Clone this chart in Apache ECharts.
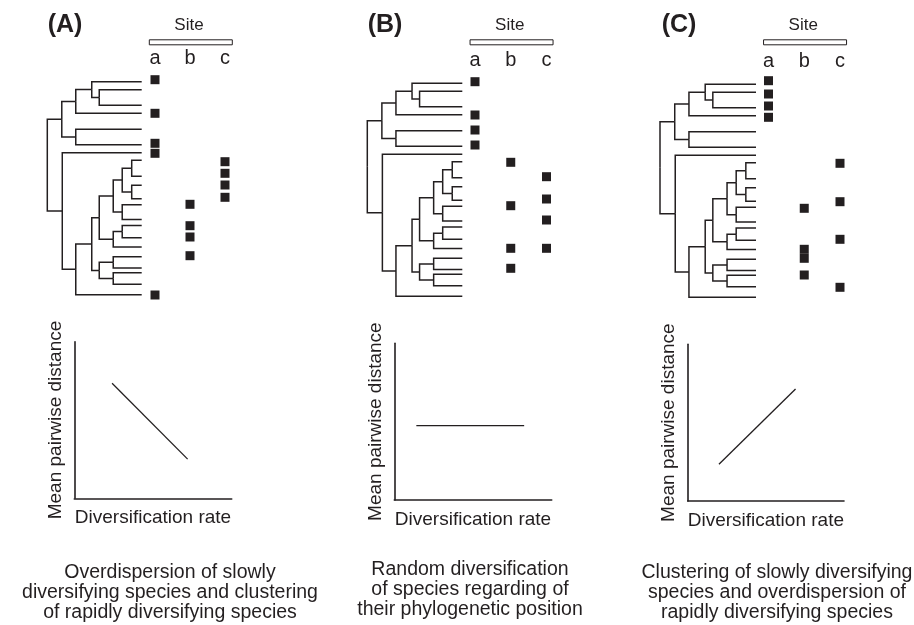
<!DOCTYPE html>
<html><head><meta charset="utf-8">
<script src="https://cdn.jsdelivr.net/npm/echarts@6/dist/echarts.min.js"></script>
<style>html,body{margin:0;padding:0;background:#fff}#c{width:914px;height:625px}</style>
</head><body><div id="c"></div>
<script>
// ---------------- DATA ----------------
const panelLetters = ['(A)', '(B)', '(C)'];
const sites = ['a', 'b', 'c'];
const siteTitle = 'Site';
// tip positions along the tree (top = 0), same tree in all three panels
const tipPositions = [0, 8, 23.5, 31.5, 47.5, 63, 71, 78.5, 94.5, 103.5, 117, 123, 137.8, 143.7, 156, 165.2, 175, 186.3, 191, 202.5, 213];
const tipDepth = 94.5;
// nested topology: [nodeDepth, child, child]; a number is a tip index
const treeTopology = [0,
  [14.5, [28.5, [44.5, 0, [52, 1, 2]], 3], [28.5, 4, 5]],
  [15, 6, [28.5, [44.5,
      [52, [66, [75, [84.5, 7, 8], [84.5, 9, 10]], [75, 11, 12]], [66, [75, 13, 14], 15]],
      [52, [66, 16, 17], [66, 18, 19]]], 20]]];
// species occurrences per site (position along the tip axis), per panel
const presenceA_a = [-2, 31.6, 61.6, 71.6, 213.3];
const presenceA_b = [122.6, 144, 155.3, 174];
const presenceA_c = [80, 91.6, 103.3, 115.6];
const presenceB_a = [-1.6, 31.7, 46.7, 61.7];
const presenceB_b = [79, 122.4, 165, 185];
const presenceB_c = [93.4, 115.7, 136.7, 165];
const presenceC_a = [-3.6, 9.7, 21.7, 33];
const presenceC_b = [124, 165, 174, 190.7];
const presenceC_c = [79, 117.4, 155, 203];
// expected relationship lines (diversification rate, mean pairwise distance)
const trendA = [[2.4, 7.35], [7.2, 2.5]];
const trendB = [[1.4, 4.75], [8.25, 4.75]];
const trendC = [[2.0, 2.35], [6.9, 7.15]];
const yAxisName = 'Mean pairwise distance';
const xAxisName = 'Diversification rate';
const captionA = ['Overdispersion of slowly', 'diversifying species and clustering', 'of rapidly diversifying species'];
const captionB = ['Random diversification', 'of species regarding of', 'their phylogenetic position'];
const captionC = ['Clustering of slowly diversifying', 'species and overdispersion of', 'rapidly diversifying species'];

// ---------------- LAYOUT ----------------
const panels = [
  {presence: [presenceA_a, presenceA_b, presenceA_c], trend: trendA, caption: captionA,
   treeLeft: 47.3, treeRight: 141.7, tip0: 81.7, siteA: 155, siteC: 225,
   plotLeft: 74.3, plotBottom: 498.3, plotW: 157.4, plotH: 156.6, letterX: 65, captionX: 170, captionY: 573},
  {presence: [presenceB_a, presenceB_b, presenceB_c], trend: trendB, caption: captionB,
   treeLeft: 367.3, treeRight: 462.3, tip0: 83.3, siteA: 475, siteC: 546.5,
   plotLeft: 394.3, plotBottom: 500, plotW: 157.4, plotH: 156.7, letterX: 385, captionX: 470, captionY: 570},
  {presence: [presenceC_a, presenceC_b, presenceC_c], trend: trendC, caption: captionC,
   treeLeft: 660, treeRight: 756, tip0: 84.3, siteA: 768.5, siteC: 840,
   plotLeft: 687.7, plotBottom: 501, plotW: 156.3, plotH: 156.7, letterX: 679, captionX: 777, captionY: 573}
];
const INK = '#231f20';
const FONT = '"Liberation Sans", Arial, sans-serif';
const Y_MIN = -12, Y_MAX = 218;

// build tree edges
const treeEdges = [];
(function walk(node) {
  if (typeof node === 'number') return {y: tipPositions[node], d: tipDepth};
  const d = node[0];
  const kids = node.slice(1).map(walk);
  const y = (kids[0].y + kids[kids.length - 1].y) / 2;
  kids.forEach(k => treeEdges.push({coords: [[d, y], [d, k.y], [k.d, k.y]]}));
  return {y, d};
})(treeTopology);

const grid = [], xAxis = [], yAxis = [], series = [], graphic = [];
panels.forEach((p, i) => {
  const top = p.tip0 + Y_MIN;
  const h = Y_MAX - Y_MIN;
  // tree grid
  grid.push({left: p.treeLeft, top: top, width: p.treeRight - p.treeLeft, height: h});
  xAxis.push({type: 'value', gridIndex: 3 * i, min: 0, max: tipDepth, show: false});
  yAxis.push({type: 'value', gridIndex: 3 * i, min: Y_MIN, max: Y_MAX, inverse: true, show: false});
  // site grid
  grid.push({left: p.siteA, top: top, width: p.siteC - p.siteA, height: h});
  xAxis.push({type: 'category', gridIndex: 3 * i + 1, data: sites, boundaryGap: false, position: 'top',
    axisLine: {show: false}, axisTick: {show: false}, splitLine: {show: false},
    axisLabel: {fontSize: 20, color: INK, fontFamily: FONT, margin: 1}});
  yAxis.push({type: 'value', gridIndex: 3 * i + 1, min: Y_MIN, max: Y_MAX, inverse: true, show: false});
  // plot grid
  grid.push({left: p.plotLeft, top: p.plotBottom - p.plotH, width: p.plotW, height: p.plotH});
  const axisCommon = {type: 'value', min: 0, max: 10, nameLocation: 'middle',
    nameTextStyle: {fontSize: 19, color: INK, fontFamily: FONT},
    axisLine: {show: true, lineStyle: {color: INK, width: 1.6}},
    axisTick: {show: false}, axisLabel: {show: false}, splitLine: {show: false}};
  xAxis.push(Object.assign({}, axisCommon, {gridIndex: 3 * i + 2, name: xAxisName, nameGap: 10}));
  yAxis.push(Object.assign({}, axisCommon, {gridIndex: 3 * i + 2, name: yAxisName, nameGap: 9}));

  series.push({type: 'lines', coordinateSystem: 'cartesian2d', xAxisIndex: 3 * i, yAxisIndex: 3 * i,
    polyline: true, silent: true, data: treeEdges,
    lineStyle: {color: INK, width: 1.5, opacity: 1}});
  p.presence.forEach((arr, s) => {
    series.push({type: 'scatter', xAxisIndex: 3 * i + 1, yAxisIndex: 3 * i + 1, symbol: 'rect', symbolSize: 9,
      itemStyle: {color: INK, opacity: 1}, silent: true, data: arr.map(v => [sites[s], v])});
  });
  series.push({type: 'line', xAxisIndex: 3 * i + 2, yAxisIndex: 3 * i + 2, data: p.trend, showSymbol: false,
    silent: true, lineStyle: {color: INK, width: 1.3}});

  const siteMid = (p.siteA + p.siteC) / 2;
  graphic.push({type: 'text', x: p.letterX, y: 25, style: {text: panelLetters[i], font: 'bold 25px ' + FONT,
    fill: INK, textAlign: 'center', textVerticalAlign: 'middle'}});
  graphic.push({type: 'text', x: siteMid - 1, y: 25.5, style: {text: siteTitle, font: '17px ' + FONT,
    fill: INK, textAlign: 'center', textVerticalAlign: 'middle'}});
  graphic.push({type: 'rect', shape: {x: siteMid + 0.8 - 41.5, y: 39.8, width: 83, height: 5},
    style: {fill: '#fff', stroke: INK, lineWidth: 1}});
  p.caption.forEach((line, k) => {
    graphic.push({type: 'text', x: p.captionX, y: p.captionY + k * 20, style: {text: line, font: '19.5px ' + FONT,
      fill: INK, textAlign: 'center', textVerticalAlign: 'middle'}});
  });
});

const chart = echarts.init(document.getElementById('c'), null, {renderer: 'canvas'});
chart.setOption({animation: false, backgroundColor: '#fff', grid, xAxis, yAxis, series, graphic});
</script></body></html>
